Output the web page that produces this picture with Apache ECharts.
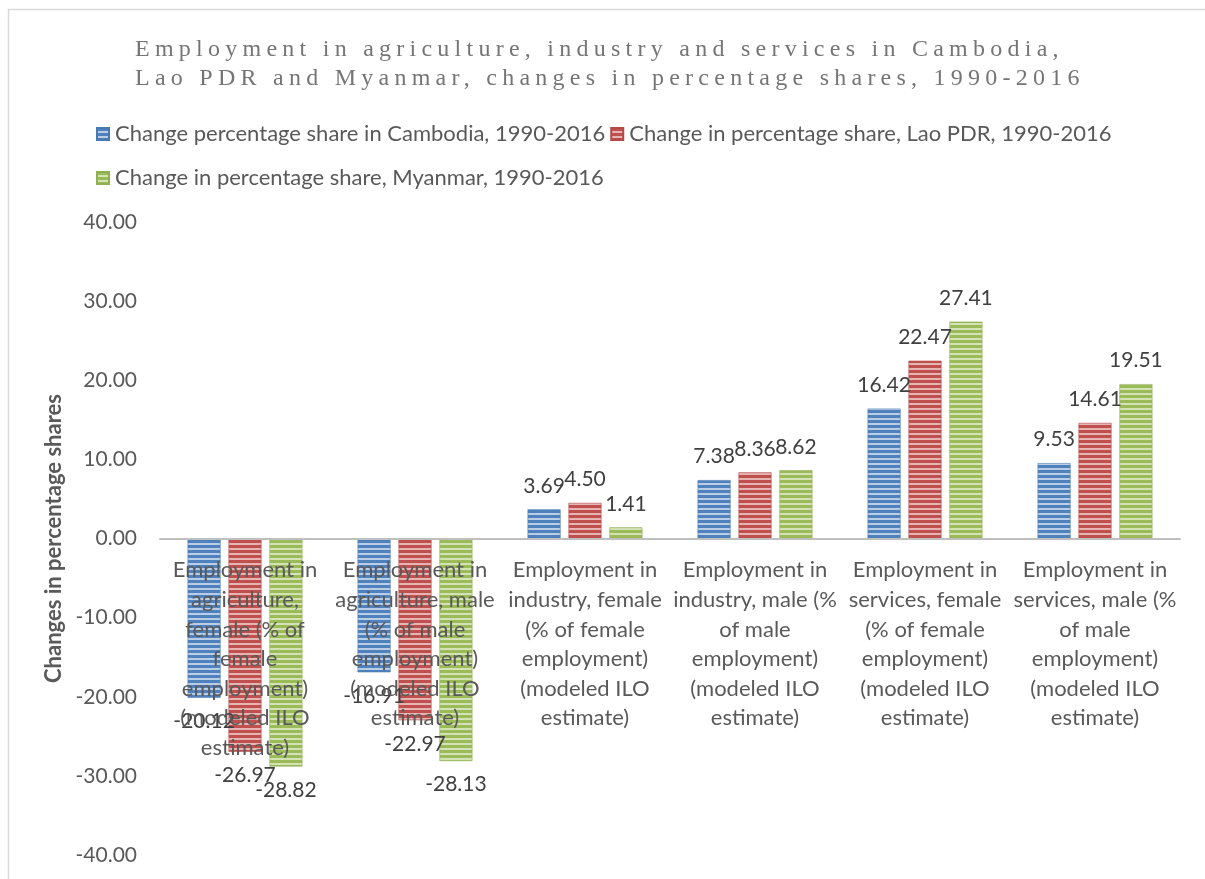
<!DOCTYPE html>
<html>
<head>
<meta charset="utf-8">
<script src="https://cdn.jsdelivr.net/npm/echarts@6/dist/echarts.min.js"></script>
<style>
  html, body { margin: 0; padding: 0; background: #ffffff; }
  #chart { width: 1205px; height: 879px; }
</style>
</head>
<body>
<div id="chart"></div>
<script>
// ---- data ----
const categories = [
  "Employment in agriculture, female (% of female employment) (modeled ILO estimate)",
  "Employment in agriculture, male (% of male employment) (modeled ILO estimate)",
  "Employment in industry, female (% of female employment) (modeled ILO estimate)",
  "Employment in industry, male (% of male employment) (modeled ILO estimate)",
  "Employment in services, female (% of female employment) (modeled ILO estimate)",
  "Employment in services, male (% of male employment) (modeled ILO estimate)"
];
const tickLabelLines = [
  ["Employment in", "agriculture,", "female (% of", "female", "employment)", "(modeled ILO", "estimate)"],
  ["Employment in", "agriculture, male", "(% of male", "employment)", "(modeled ILO", "estimate)"],
  ["Employment in", "industry, female", "(% of female", "employment)", "(modeled ILO", "estimate)"],
  ["Employment in", "industry, male (%", "of male", "employment)", "(modeled ILO", "estimate)"],
  ["Employment in", "services, female", "(% of female", "employment)", "(modeled ILO", "estimate)"],
  ["Employment in", "services, male (%", "of male", "employment)", "(modeled ILO", "estimate)"]
];
const seriesNames = [
  "Change percentage share in Cambodia, 1990-2016",
  "Change in percentage share, Lao PDR, 1990-2016",
  "Change in percentage share, Myanmar, 1990-2016"
];
const cambodia = [-20.12, -16.91, 3.69, 7.38, 16.42, 9.53];
const laoPDR   = [-26.97, -22.97, 4.50, 8.36, 22.47, 14.61];
const myanmar  = [-28.82, -28.13, 1.41, 8.62, 27.41, 19.51];
const yMin = -40, yMax = 40, yStep = 10;
const titleLines = [
  "Employment in agriculture, industry and services in Cambodia,",
  "Lao PDR and Myanmar, changes in percentage shares, 1990-2016"
];
const yAxisName = "Changes in percentage shares";

// ---- title letter spacing (canvas) ----
const spacedTexts = new Set(titleLines);
const nativeFillText = CanvasRenderingContext2D.prototype.fillText;
CanvasRenderingContext2D.prototype.fillText = function () {
  if (spacedTexts.has(arguments[0]) && 'letterSpacing' in this) {
    const prev = this.letterSpacing;
    this.letterSpacing = '5.25px';
    nativeFillText.apply(this, arguments);
    this.letterSpacing = prev;
    return;
  }
  return nativeFillText.apply(this, arguments);
};

// ---- striped bar fills ----
function stripes(base, light) {
  const c = document.createElement('canvas');
  c.width = 4; c.height = 5;
  const g = c.getContext('2d');
  g.fillStyle = base; g.fillRect(0, 0, 4, 5);
  g.fillStyle = light; g.fillRect(0, 3, 4, 2);
  return { image: c, repeat: 'repeat' };
}
const fills = [
  stripes('#4f81bd', '#b9cde6'),
  stripes('#c0504d', '#e6b4b3'),
  stripes('#9bbb59', '#d4e3b6')
];
const edges = ['#4a78b0', '#b34a47', '#90ae52'];

const FONT = 'Lato, "Open Sans", sans-serif';

// plot area
const GRID = { left: 160, right: 25, top: 222, bottom: 24 };
const plotHeight = 879 - GRID.top - GRID.bottom;
// category axis sits on the zero line
const zeroOffset = -plotHeight * (0 - yMin) / (yMax - yMin);

const chart = echarts.init(document.getElementById('chart'), null, { renderer: 'canvas' });

function barSeries(name, data, i) {
  return {
    name: name,
    type: 'bar',
    data: data,
    barWidth: 33,
    barGap: '24%',
    itemStyle: { color: fills[i], borderColor: edges[i], borderWidth: 0.6 },
    label: {
      show: true,
      position: 'outside',
      distance: 13,
      color: '#404040',
      fontFamily: FONT,
      fontSize: 21,
      formatter: p => p.value.toFixed(2)
    },
    emphasis: { disabled: true },
    z: 2
  };
}

const legendText = { fontFamily: FONT, fontSize: 22, color: '#595959', padding: [0, 0, 0, 1] };

chart.setOption({
  animation: false,
  backgroundColor: '#ffffff',
  title: {
    text: titleLines.join('\n'),
    left: 130,
    top: 30,
    textStyle: {
      fontFamily: '"Liberation Serif", "Times New Roman", serif',
      fontWeight: 'normal',
      fontSize: 24,
      lineHeight: 29,
      color: '#757575'
    }
  },
  legend: [
    {
      data: [seriesNames[0], seriesNames[1]],
      left: 91,
      top: 118,
      itemWidth: 12,
      itemHeight: 12,
      itemGap: 5,
      icon: 'rect',
      textStyle: legendText
    },
    {
      data: [seriesNames[2]],
      left: 91,
      top: 162,
      itemWidth: 12,
      itemHeight: 12,
      icon: 'rect',
      textStyle: legendText
    }
  ],
  grid: {
    left: GRID.left, right: GRID.right, top: GRID.top, bottom: GRID.bottom,
    containLabel: false,
    outerBoundsMode: 'none'
  },
  xAxis: {
    type: 'category',
    data: categories,
    offset: zeroOffset,
    axisLine: { onZero: false, lineStyle: { color: '#bfbfbf', width: 2 } },
    axisTick: { show: false },
    axisLabel: {
      interval: 0,
      margin: 17,
      fontFamily: FONT,
      fontSize: 22,
      lineHeight: 29.6,
      color: '#595959',
      formatter: (v, i) => tickLabelLines[i].join('\n')
    },
    z: 3
  },
  yAxis: {
    type: 'value',
    min: yMin,
    max: yMax,
    interval: yStep,
    name: yAxisName,
    nameLocation: 'middle',
    nameGap: 89,
    nameTextStyle: { fontFamily: FONT, fontSize: 22, fontWeight: 'bold', color: '#595959' },
    axisLine: { show: false },
    axisTick: { show: false },
    splitLine: { show: false },
    axisLabel: {
      margin: 23,
      fontFamily: FONT,
      fontSize: 21,
      color: '#595959',
      formatter: v => v.toFixed(2)
    }
  },
  graphic: [
    {
      type: 'rect',
      left: 6,
      top: 7,
      shape: { width: 1400, height: 1000 },
      style: { fill: 'none', stroke: '#d9d9d9', lineWidth: 1.5 },
      silent: true,
      z: -10
    }
  ],
  series: [
    barSeries(seriesNames[0], cambodia, 0),
    barSeries(seriesNames[1], laoPDR, 1),
    barSeries(seriesNames[2], myanmar, 2)
  ]
});
</script>
</body>
</html>
